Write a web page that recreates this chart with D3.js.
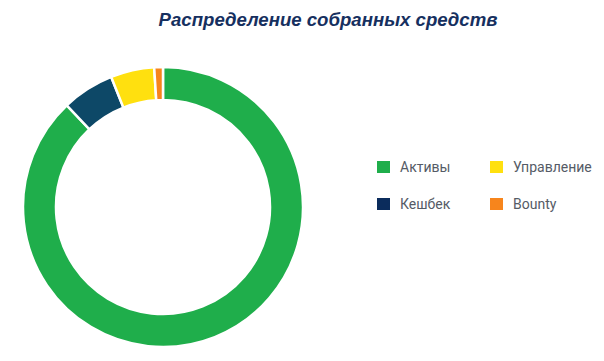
<!DOCTYPE html>
<html><head><meta charset="utf-8">
<script src="https://cdn.jsdelivr.net/npm/d3@7/dist/d3.min.js"></script>
<style>body{margin:0;background:#fff}svg{display:block}</style>
</head><body>
<svg id="c" width="604" height="361"></svg>
<script>
const categories = ["Активы", "Кешбек", "Управление", "Bounty"];
const values = [87.5, 6, 5, 1];
const arcColors = ["#1fae4b", "#0d4867", "#ffe00f", "#f7851c"];
const legendColors = ["#1fae4b", "#0b2c5c", "#ffe00f", "#f7851c"];
const title = "Распределение собранных средств";

const svg = d3.select("#c");
svg.append("text").attr("x", 328).attr("y", 26).attr("text-anchor", "middle")
  .attr("font-family", "Liberation Sans, Arial, sans-serif").attr("font-style", "italic")
  .attr("font-weight", "bold").attr("font-size", 18.6).attr("fill", "#16305f").text(title);

const cx = 163, cy = 207, R = 140, r = 107;
// clockwise order from top: Активы, Кешбек, Управление, Bounty
const pie = d3.pie().sort(null).value(d => d);
const arc = d3.arc().innerRadius(r).outerRadius(R);
const g = svg.append("g").attr("transform", `translate(${cx},${cy})`);
g.selectAll("path").data(pie(values)).join("path")
  .attr("d", arc).attr("fill", (d, i) => arcColors[i])
  .attr("stroke", "#fff").attr("stroke-width", 2.5);

// legend: column-wise layout
const lx = [377, 490], ly = [161, 198];
const order = [[0,0],[0,1],[1,0],[1,1]]; // [col,row] for Активы, Кешбек, Управление, Bounty
const lg = svg.append("g");
categories.forEach((c, i) => {
  const [col, row] = order[i];
  lg.append("rect").attr("x", lx[col]).attr("y", ly[row]).attr("width", 13).attr("height", 12)
    .attr("fill", legendColors[i]);
  lg.append("text").attr("x", lx[col] + 23).attr("y", ly[row] + 11)
    .attr("font-family", "Roboto, sans-serif").attr("font-size", 14).attr("fill", "#555b66").text(c);
});
</script>
</body></html>
